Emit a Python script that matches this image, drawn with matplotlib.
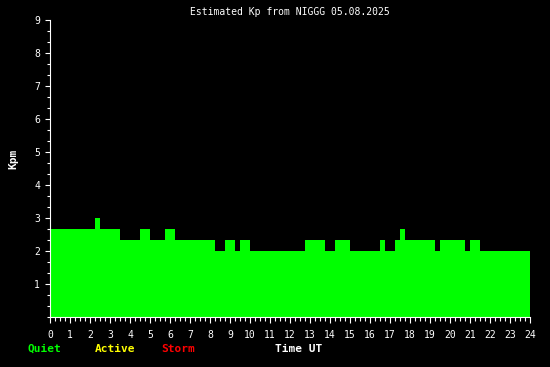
import matplotlib
matplotlib.use("Agg")
import matplotlib.pyplot as plt
import numpy as np

# Kp estimates, step edges in hours UT and level for each step
edges = [0, 2.25, 2.5, 3.5, 4.5, 5.0, 5.75, 6.25, 8.25, 8.75, 9.25, 9.5, 10.0,
         12.75, 13.75, 14.25, 15.0, 16.5, 16.75, 17.25, 17.5, 17.75, 19.25,
         19.5, 20.75, 21.0, 21.5, 24]
kp = [2.67, 3.0, 2.67, 2.33, 2.67, 2.33, 2.67, 2.33, 2.0, 2.33, 2.0, 2.33,
      2.0, 2.33, 2.0, 2.33, 2.0, 2.33, 2.0, 2.33, 2.67, 2.33, 2.0, 2.33,
      2.0, 2.33, 2.0]

x_ticks = list(range(0, 25))
y_ticks = list(range(1, 10))
legend_labels = ["Quiet", "Active", "Storm"]
legend_colors = ["#00ff00", "#ffff00", "#ff0000"]

W, H = 550, 367
fig = plt.figure(figsize=(W / 100, H / 100), dpi=100, facecolor="black")
ax = fig.add_axes([50 / W, 50 / H, 480 / W, 297 / H], facecolor="black")

ax.stairs(kp, edges, fill=True, color="#00ff00", baseline=0)

ax.set_xlim(0, 24)
ax.set_ylim(0, 9)
ax.set_xticks(x_ticks)
ax.set_xticks(np.arange(0, 24.01, 0.25), minor=True)
ax.set_yticks(y_ticks)
ax.set_yticks(np.arange(0, 9.01, 1 / 3), minor=True)

mono = "DejaVu Sans Mono"
ax.tick_params(axis="x", which="major", length=4.3, width=0.8, colors="white",
               labelsize=7, pad=5)
ax.tick_params(axis="x", which="minor", length=2.9, width=0.8, colors="white")
ax.tick_params(axis="y", which="major", length=3.6, width=0.8, colors="white",
               labelsize=7, pad=3.5)
ax.tick_params(axis="y", which="minor", length=2.2, width=0.8, colors="white")
for lbl in ax.get_xticklabels() + ax.get_yticklabels():
    lbl.set_family(mono)

for side in ["top", "right"]:
    ax.spines[side].set_visible(False)
for side in ["left", "bottom"]:
    ax.spines[side].set_color("white")
    ax.spines[side].set_linewidth(0.8)

fig.text(290 / W, 1 - 12 / H, "Estimated Kp from NIGGG 05.08.2025",
         color="white", family=mono, fontsize=7, ha="center", va="center")
fig.text(13 / W, 1 - 159 / H, "Kpm", color="white", family=mono,
         fontsize=8, fontweight="bold", rotation=90, ha="center", va="center")

legend_x = [28, 95, 161]
for x, lab, col in zip(legend_x, legend_labels, legend_colors):
    fig.text(x / W, 1 - 349 / H, lab, color=col, family=mono, fontsize=8,
             fontweight="bold", ha="left", va="center")
fig.text(275 / W, 1 - 349 / H, "Time UT", color="white", family=mono,
         fontsize=8, fontweight="bold", ha="left", va="center")

fig.savefig("out.png", dpi=100, facecolor="black")
